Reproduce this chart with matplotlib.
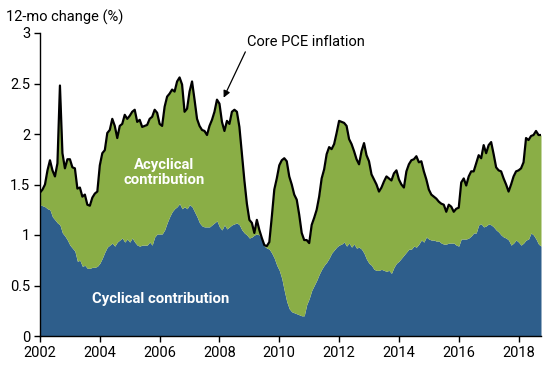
import numpy as np
import matplotlib
matplotlib.use("Agg")
import matplotlib.pyplot as plt

plt.rcParams['font.family'] = ['Roboto', 'DejaVu Sans']

start_year = 2002

core_pce = [
    # 2002
    1.42, 1.45, 1.50, 1.64, 1.74, 1.64, 1.58, 1.71, 2.48, 1.81, 1.66, 1.75,
    # 2003
    1.75, 1.67, 1.66, 1.46, 1.47, 1.38, 1.40, 1.30, 1.29, 1.37, 1.41, 1.43,
    # 2004
    1.69, 1.81, 1.84, 2.01, 2.04, 2.15, 2.08, 1.96, 2.08, 2.10, 2.19, 2.15,
    # 2005
    2.18, 2.22, 2.24, 2.12, 2.14, 2.07, 2.08, 2.09, 2.15, 2.17, 2.24, 2.21,
    # 2006
    2.10, 2.08, 2.27, 2.37, 2.40, 2.44, 2.42, 2.52, 2.56, 2.49, 2.22, 2.25,
    # 2007
    2.42, 2.52, 2.34, 2.15, 2.08, 2.04, 2.03, 1.99, 2.08, 2.14, 2.22, 2.34,
    # 2008
    2.30, 2.12, 2.03, 2.13, 2.10, 2.22, 2.24, 2.22, 2.07, 1.81, 1.54, 1.31,
    # 2009
    1.15, 1.12, 1.02, 1.15, 1.05, 0.97, 0.90, 0.89, 0.93, 1.18, 1.45, 1.56,
    # 2010
    1.69, 1.74, 1.76, 1.73, 1.58, 1.50, 1.40, 1.35, 1.20, 1.02, 0.95, 0.95,
    # 2011
    0.92, 1.10, 1.17, 1.25, 1.38, 1.56, 1.65, 1.80, 1.87, 1.85, 1.90, 2.01,
    # 2012
    2.13, 2.12, 2.11, 2.08, 1.95, 1.90, 1.83, 1.75, 1.70, 1.83, 1.91, 1.79,
    # 2013
    1.73, 1.60, 1.55, 1.50, 1.43, 1.47, 1.53, 1.58, 1.56, 1.54, 1.61, 1.64,
    # 2014
    1.55, 1.50, 1.47, 1.63, 1.70, 1.74, 1.75, 1.78, 1.72, 1.73, 1.63, 1.55,
    # 2015
    1.45, 1.40, 1.38, 1.36, 1.33, 1.31, 1.30, 1.23, 1.30, 1.28, 1.23, 1.26,
    # 2016
    1.27, 1.52, 1.56, 1.49, 1.58, 1.63, 1.63, 1.71, 1.79, 1.76, 1.89, 1.81,
    # 2017
    1.89, 1.92, 1.80, 1.67, 1.64, 1.63, 1.56, 1.50, 1.43, 1.50, 1.58, 1.63,
    # 2018
    1.64, 1.66, 1.72, 1.96, 1.94, 1.98, 1.99, 2.03, 1.99, 1.99,
]

cyclical = [
    # 2002
    1.30, 1.29, 1.28, 1.26, 1.25, 1.18, 1.15, 1.12, 1.10, 1.02, 0.99, 0.95,
    # 2003
    0.90, 0.87, 0.84, 0.74, 0.75, 0.69, 0.70, 0.67, 0.67, 0.68, 0.68, 0.69,
    # 2004
    0.72, 0.77, 0.83, 0.88, 0.90, 0.92, 0.89, 0.93, 0.95, 0.97, 0.93, 0.96,
    # 2005
    0.93, 0.97, 0.93, 0.90, 0.89, 0.90, 0.90, 0.90, 0.93, 0.90, 0.98, 1.01,
    # 2006
    1.01, 1.01, 1.05, 1.12, 1.18, 1.23, 1.26, 1.28, 1.31, 1.26, 1.28, 1.26,
    # 2007
    1.30, 1.28, 1.23, 1.18, 1.12, 1.09, 1.08, 1.08, 1.08, 1.10, 1.12, 1.14,
    # 2008
    1.08, 1.05, 1.10, 1.06, 1.08, 1.10, 1.11, 1.12, 1.10, 1.05, 1.02, 1.00,
    # 2009
    0.97, 0.98, 1.00, 1.01, 1.00, 0.96, 0.89, 0.87, 0.86, 0.82, 0.77, 0.70,
    # 2010
    0.65, 0.57, 0.45, 0.34, 0.27, 0.24, 0.23, 0.22, 0.21, 0.20, 0.20, 0.31,
    # 2011
    0.37, 0.45, 0.50, 0.55, 0.61, 0.66, 0.70, 0.73, 0.77, 0.82, 0.85, 0.88,
    # 2012
    0.90, 0.91, 0.93, 0.89, 0.92, 0.88, 0.91, 0.87, 0.88, 0.86, 0.82, 0.76,
    # 2013
    0.72, 0.70, 0.66, 0.65, 0.65, 0.66, 0.65, 0.64, 0.65, 0.62, 0.68, 0.72,
    # 2014
    0.74, 0.77, 0.80, 0.83, 0.86, 0.86, 0.89, 0.88, 0.91, 0.95, 0.93, 0.98,
    # 2015
    0.96, 0.95, 0.95, 0.94, 0.94, 0.92, 0.91, 0.91, 0.92, 0.92, 0.92, 0.90,
    # 2016
    0.89, 0.96, 0.96, 0.96, 0.97, 0.99, 1.02, 1.02, 1.10, 1.11, 1.08, 1.09,
    # 2017
    1.11, 1.10, 1.08, 1.05, 1.03, 1.00, 0.98, 0.97, 0.95, 0.90, 0.92, 0.95,
    # 2018
    0.93, 0.90, 0.92, 0.95, 0.96, 1.02, 1.00, 0.96, 0.91, 0.89,
]

x_ticks = [2002, 2004, 2006, 2008, 2010, 2012, 2014, 2016, 2018]
y_ticks = [0, 0.5, 1, 1.5, 2, 2.5, 3]
y_tick_labels = ["0", "0.5", "1", "1.5", "2", "2.5", "3"]

BLUE = "#2E5E8B"
GREEN = "#8AAE46"

core = np.array(core_pce)
cyc = np.array(cyclical)
t = start_year + np.arange(len(core)) / 12.0

fig = plt.figure(figsize=(5.5, 3.65), dpi=100)
ax = fig.add_axes([40 / 550, 1 - 336 / 365, 501 / 550, 303 / 365])

ax.fill_between(t, 0, cyc, color=BLUE, linewidth=0)
ax.fill_between(t, cyc, core, color=GREEN, linewidth=0)
ax.plot(t, core, color="black", linewidth=1.6, solid_joinstyle="round")

ax.set_xlim(start_year, t[-1])
ax.set_ylim(0, 3)
ax.set_xticks(x_ticks)
ax.set_xticklabels([str(v) for v in x_ticks])
ax.set_yticks(y_ticks)
ax.set_yticklabels(y_tick_labels)
ax.tick_params(axis="both", direction="out", length=4, width=1, labelsize=10.5,
               colors="black", pad=3)
for s in ["top", "right"]:
    ax.spines[s].set_visible(False)
for s in ["left", "bottom"]:
    ax.spines[s].set_linewidth(1.0)
    ax.spines[s].set_color("black")

fig.text(6 / 550, 1 - 17 / 365, "12-mo change (%)", fontsize=10.5,
         ha="left", va="center", color="black")

ax.text(2006.14, 1.62, "Acyclical\ncontribution", color="white", fontsize=10.7,
        fontweight="bold", ha="center", va="center", linespacing=1.1)
ax.text(2006.02, 0.37, "Cyclical contribution", color="white", fontsize=10.7,
        fontweight="bold", ha="center", va="center")

ax.annotate("Core PCE inflation", xy=(2008.14, 2.36), xytext=(2010.88, 2.91),
            fontsize=10.5, ha="center", va="center",
            arrowprops=dict(arrowstyle="-|>", color="black", lw=0.9,
                            shrinkA=0, shrinkB=0, mutation_scale=10,
                            relpos=(0.0, 0.0)))

fig.savefig("out.png", dpi=100)
